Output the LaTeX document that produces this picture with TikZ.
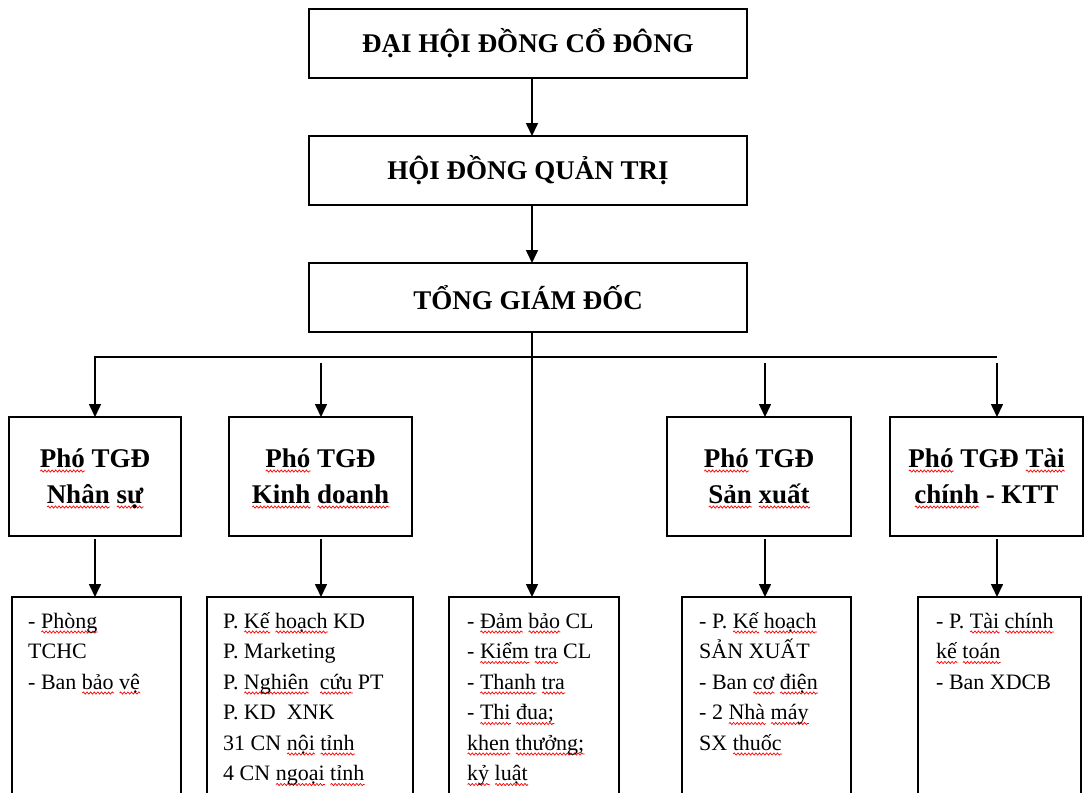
\documentclass[tikz,border=0pt]{standalone}
\usepackage{fontspec}
\setmainfont{Liberation Serif}
\usetikzlibrary{arrows.meta,decorations.pathmorphing}
\tikzset{
  box/.style={draw, line width=1.4pt, inner sep=0pt, outer sep=0pt},
  toptext/.style={inner sep=0pt, font=\fontsize{27}{36}\selectfont\bfseries},
  vptext/.style={inner sep=0pt, align=center, font=\fontsize{27}{36}\selectfont\bfseries},
  depttext/.style={anchor=north west, inner sep=0pt, align=left, font=\fontsize{22}{30.5}\selectfont},
  arr/.style={line width=1.6pt, -{Triangle[width=12pt,length=13pt]}},
  sqline/.style={red, line width=0.7pt, decorate, decoration={snake, amplitude=1.1pt, segment length=3.6pt}},
}
\newsavebox\sqbox
\newcommand\sq[1]{\sbox\sqbox{#1}\rlap{\tikz[baseline=0pt]\draw[sqline](0pt,-3.8pt)--(\wd\sqbox,-3.8pt);}\usebox\sqbox}
\newcommand\fst{\rule{0pt}{21pt}}
\begin{document}
\begin{tikzpicture}[x=1pt,y=-1pt]
\useasboundingbox (0,0) rectangle (1088,793);
\clip (0,0) rectangle (1088,793);
% top chain
\node[box, minimum width=438pt, minimum height=69pt] (A) at (528,43.5) {};
\node[box, minimum width=438pt, minimum height=69pt] (B) at (528,170.5) {};
\node[box, minimum width=438pt, minimum height=69pt] (C) at (528,297.5) {};
\node[toptext] (tA) at (A) {ĐẠI HỘI ĐỒNG CỔ ĐÔNG};
\node[toptext] (tB) at (B) {HỘI ĐỒNG QUẢN TRỊ};
\node[toptext] (tC) at (C) {TỔNG GIÁM ĐỐC};
% vice directors
\node[box, minimum width=172pt, minimum height=119pt] (P1) at (95,476.5) {};
\node[box, minimum width=183pt, minimum height=119pt] (P2) at (320.5,476.5) {};
\node[box, minimum width=184pt, minimum height=119pt] (P3) at (759,476.5) {};
\node[box, minimum width=193pt, minimum height=119pt] (P4) at (986.5,476.5) {};
\node[vptext] (t1) at ([yshift=-2pt]P1.center) {\sq{Phó} TGĐ\\\sq{Nhân} \sq{sự}};
\node[vptext] (t2) at ([yshift=-2pt]P2.center) {\sq{Phó} TGĐ\\\sq{Kinh} \sq{doanh}};
\node[vptext] (t3) at ([yshift=-2pt]P3.center) {\sq{Phó} TGĐ\\\sq{Sản} \sq{xuất}};
\node[vptext] (t4) at ([yshift=-2pt]P4.center) {\sq{Phó} TGĐ \sq{Tài}\\\sq{chính} - KTT};
% departments
\node[box, minimum width=169pt, minimum height=203pt] (D1) at (96.5,698.5) {};
\node[box, minimum width=206pt, minimum height=203pt] (D2) at (310,698.5) {};
\node[box, minimum width=170pt, minimum height=203pt] (D3) at (534,698.5) {};
\node[box, minimum width=169pt, minimum height=203pt] (D4) at (766.5,698.5) {};
\node[box, minimum width=163pt, minimum height=203pt] (D5) at (999.5,698.5) {};
\node[depttext] (d1) at ([xshift=16pt,yshift=-10pt]D1.north west) {\fst- \sq{Phòng}\\TCHC\\- Ban \sq{bảo} \sq{vệ}};
\node[depttext] (d2) at ([xshift=16pt,yshift=-10pt]D2.north west) {\fst P. \sq{Kế} \sq{hoạch} KD\\P. Marketing\\P. \sq{Nghiên} \ \sq{cứu} PT\\P. KD \ XNK\\31 CN \sq{nội} \sq{tỉnh}\\4 CN \sq{ngoại} \sq{tỉnh}};
\node[depttext] (d3) at ([xshift=18pt,yshift=-10pt]D3.north west) {\fst- \sq{Đảm} \sq{bảo} CL\\- \sq{Kiểm} \sq{tra} CL\\- \sq{Thanh} \sq{tra}\\- \sq{Thi} \sq{đua;}\\\sq{khen} \sq{thưởng;}\\\sq{kỷ} \sq{luật}};
\node[depttext] (d4) at ([xshift=17pt,yshift=-10pt]D4.north west) {\fst- P. \sq{Kế} \sq{hoạch}\\SẢN XUẤT\\- Ban \sq{cơ} \sq{điện}\\- 2 \sq{Nhà} \sq{máy}\\SX \sq{thuốc}};
\node[depttext] (d5) at ([xshift=18pt,yshift=-10pt]D5.north west) {\fst- P. \sq{Tài} \sq{chính}\\\sq{kế} \sq{toán}\\- Ban XDCB};
% coordinates for connectors
\coordinate (k0) at (532,0);
\coordinate (busR) at (997,357);
\coordinate (s2) at (321,363);
\coordinate (s3) at (765,363);
\coordinate (s4) at (997,363);
\coordinate (u1) at (95,539);
\coordinate (u2) at (321,539);
\coordinate (u3) at (765,539);
\coordinate (u4) at (997,539);
% connectors
\draw[arr] (A.south -| k0) -- (B.north -| k0);
\draw[arr] (B.south -| k0) -- (C.north -| k0);
\draw[arr] (C.south -| k0) -- (D3.north -| k0);
\draw[arr] (busR) -| (P1.north);
\draw[arr] (s2) -- (P2.north -| s2);
\draw[arr] (s3) -- (P3.north -| s3);
\draw[arr] (s4) -- (P4.north -| s4);
\draw[arr] (u1) -- (D1.north -| u1);
\draw[arr] (u2) -- (D2.north -| u2);
\draw[arr] (u3) -- (D4.north -| u3);
\draw[arr] (u4) -- (D5.north -| u4);
\end{tikzpicture}
\end{document}
